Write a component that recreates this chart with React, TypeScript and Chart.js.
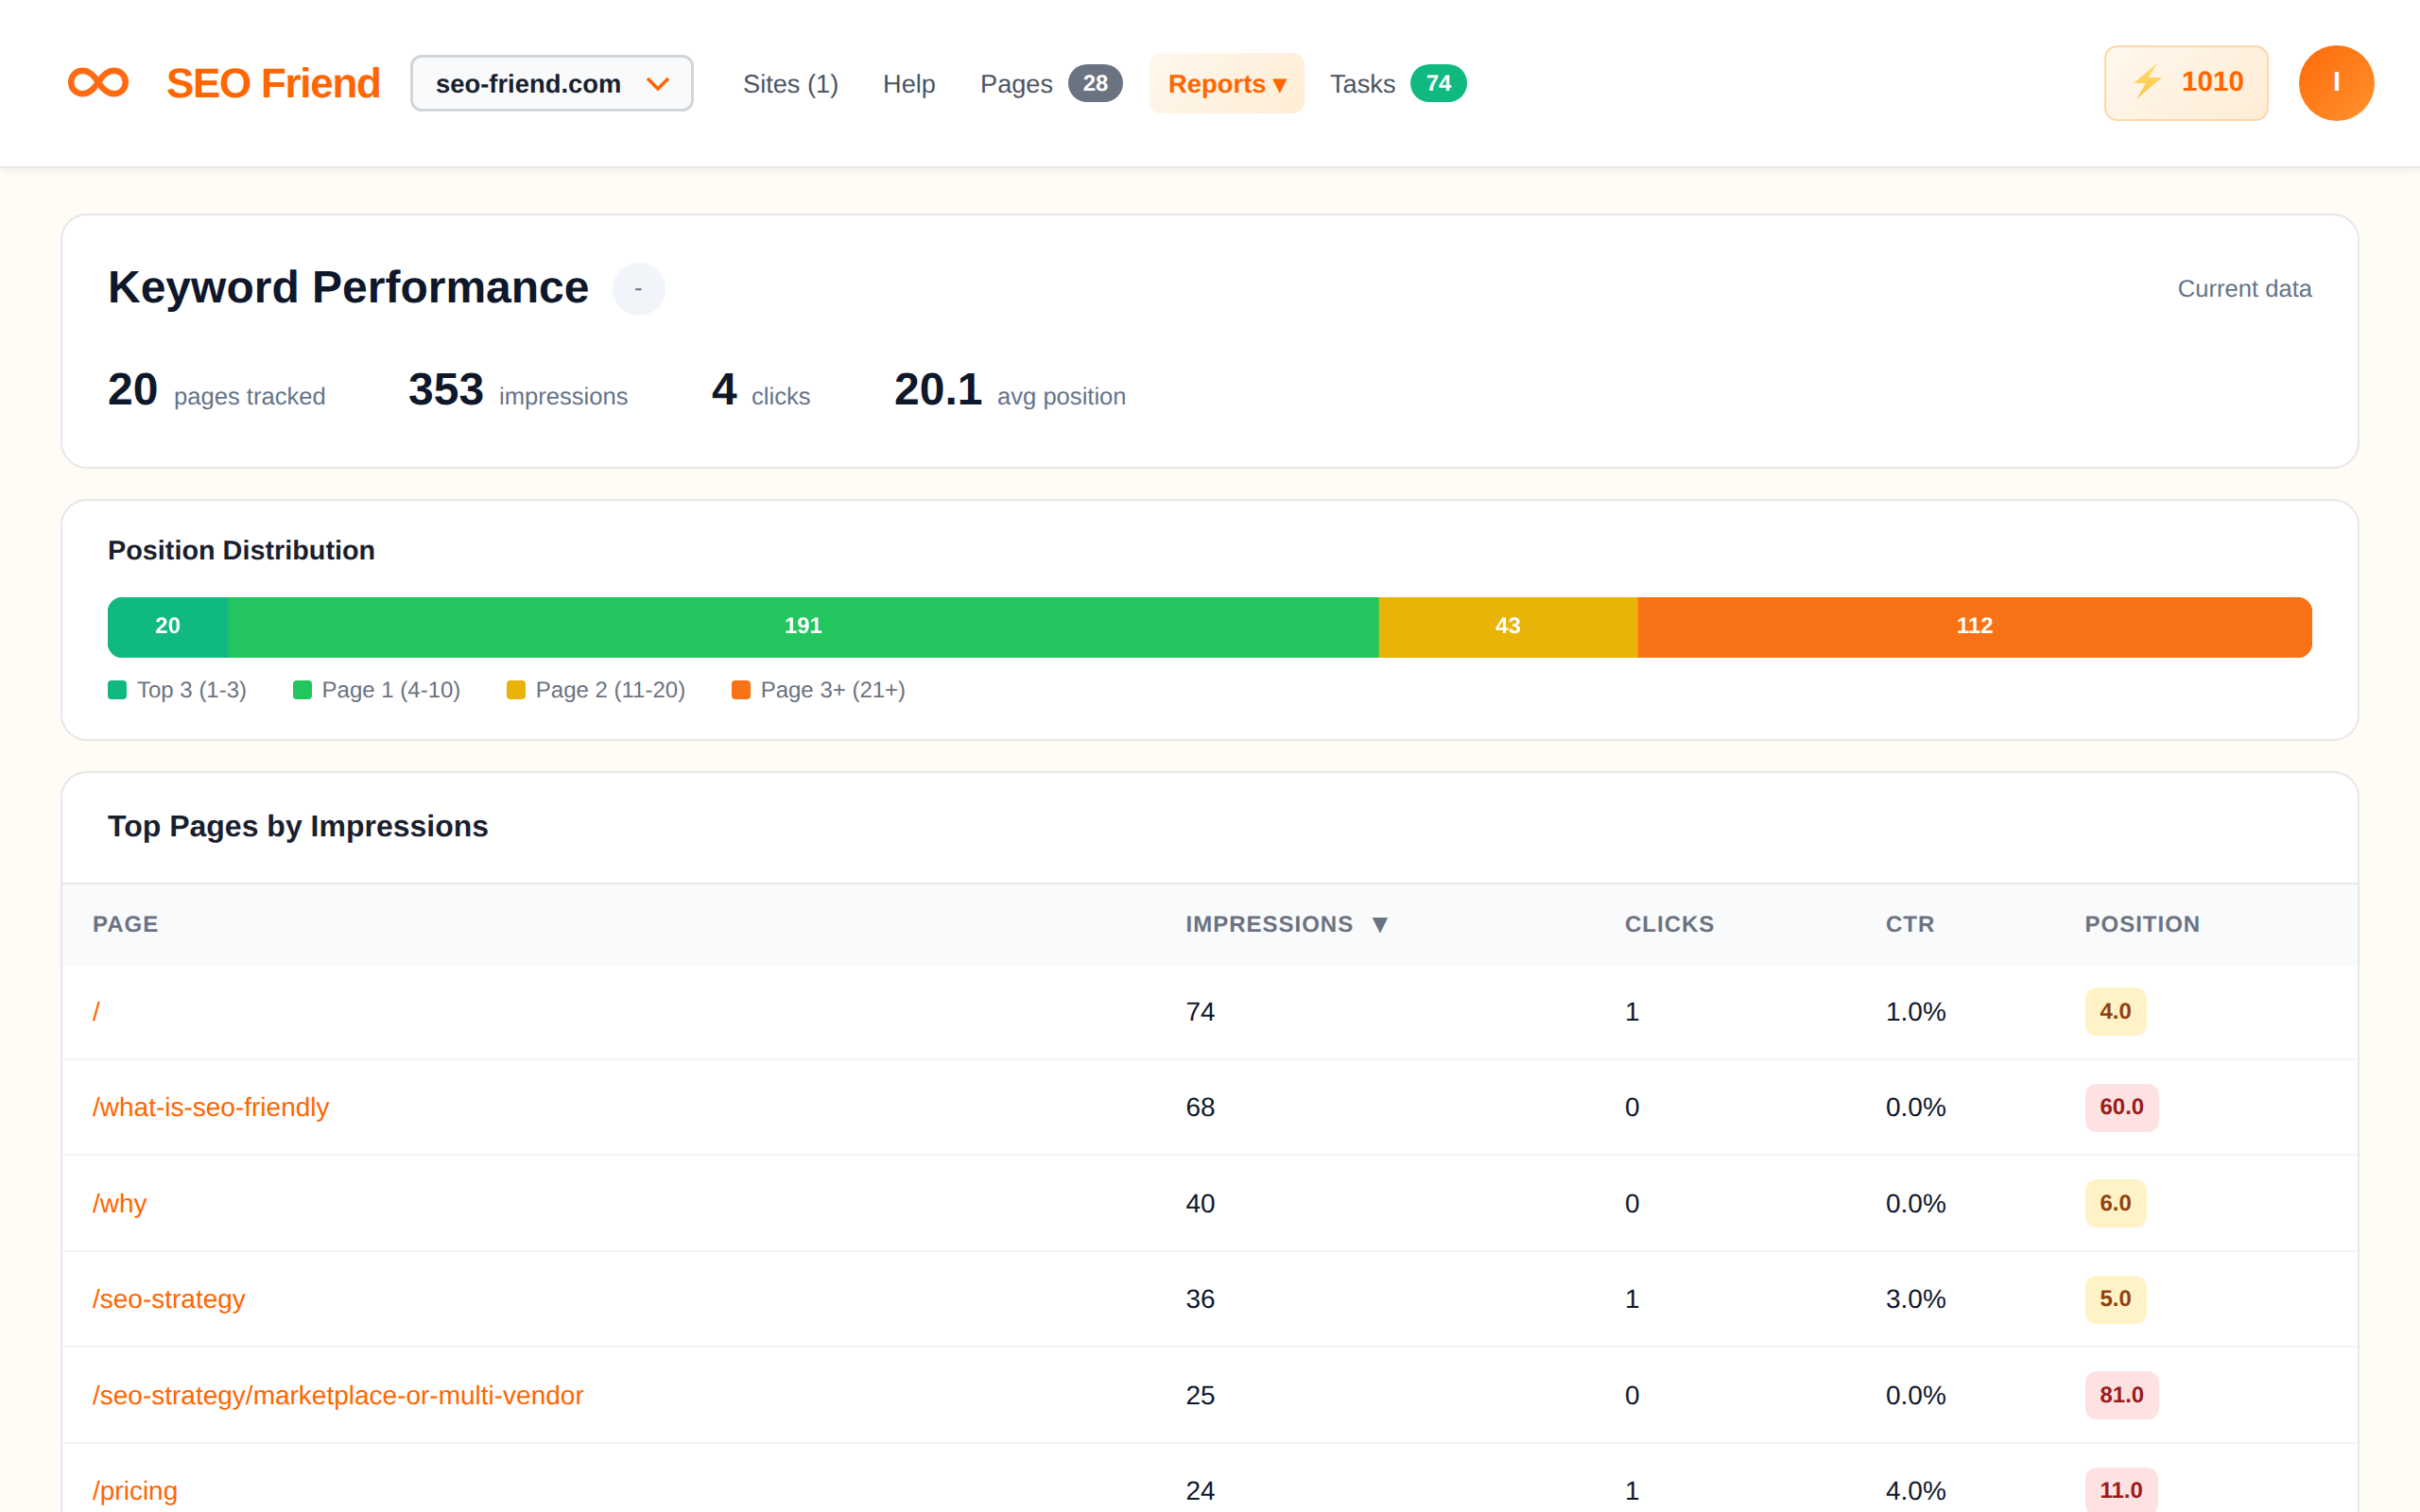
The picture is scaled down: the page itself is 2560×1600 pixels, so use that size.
import React, { useEffect, useRef } from "react";
import { Chart, registerables } from "chart.js";

Chart.register(...registerables);

const FONT = '"Liberation Sans", Arial, sans-serif';
const ORANGE = "#ff6600";

// position distribution
const bandLabels = ["Top 3 (1-3)", "Page 1 (4-10)", "Page 2 (11-20)", "Page 3+ (21+)"];
const bandValues = [20, 191, 43, 112];
const bandColors = ["#10b981", "#22c55e", "#eab308", "#f97316"];

// summary stats
const statValues = ["20", "353", "4", "20.1"];
const statLabels = ["pages tracked", "impressions", "clicks", "avg position"];
const statValueX = [114, 432, 753, 946];
const statLabelX = [184, 528, 795, 1055];

// table
const pagePaths = ["/", "/what-is-seo-friendly", "/why", "/seo-strategy", "/seo-strategy/marketplace-or-multi-vendor", "/pricing"];
const pageImpressions = [74, 68, 40, 36, 25, 24];
const pageClicks = [1, 0, 0, 1, 0, 1];
const pageCtr = ["1.0%", "0.0%", "0.0%", "3.0%", "0.0%", "4.0%"];
const pagePositions = ["4.0", "60.0", "6.0", "5.0", "81.0", "11.0"];
const pageGood = [true, false, true, true, false, false];

const tableHeaders = ["PAGE", "IMPRESSIONS", "CLICKS", "CTR", "POSITION"];
const columnX = [98, 1254.5, 1719, 1995, 2205.5];
const ROW_PITCH = 101.5;

const Txt: React.FC<{ x: number; base: number; size: number; color: string; bold?: boolean; spacing?: number; right?: boolean; children: React.ReactNode }> = ({ x, base, size, color, bold, spacing, right, children }) => {
  const lh = size * 1.4;
  return (
    <div style={{
      position: "absolute",
      ...(right ? { right: 2560 - x } : { left: x }),
      top: base - size * 0.3465 - lh / 2,
      fontSize: size,
      lineHeight: lh + "px",
      fontWeight: bold ? 700 : 400,
      color,
      letterSpacing: spacing,
      whiteSpace: "nowrap"
    }}>{children}</div>
  );
};

const Box: React.FC<{ x: number; y: number; w: number; h: number; style?: React.CSSProperties; children?: React.ReactNode }> = ({ x, y, w, h, style, children }) => (
  <div style={{ position: "absolute", left: x, top: y, width: w, height: h, boxSizing: "border-box", ...style }}>{children}</div>
);

const CountBadge: React.FC<{ x: number; w: number; bg: string; text: string }> = ({ x, w, bg, text }) => (
  <Box x={x} y={68} w={w} h={40} style={{ background: bg, borderRadius: 20, color: "#fff", fontSize: 24, fontWeight: 700, paddingTop: 1, display: "flex", alignItems: "center", justifyContent: "center" }}>{text}</Box>
);

const DistributionBar: React.FC = () => {
  const canvasRef = useRef<HTMLCanvasElement | null>(null);

  useEffect(() => {
    if (!canvasRef.current) return;
    const last = bandValues.length - 1;

    const chart = new Chart(canvasRef.current, {
      type: "bar",
      data: {
        labels: ["Position Distribution"],
        datasets: bandValues.map((v, i) => ({
          label: bandLabels[i],
          data: [v],
          backgroundColor: bandColors[i],
          borderWidth: 0,
          borderSkipped: false,
          borderRadius: i === 0
            ? { topLeft: 16, bottomLeft: 16, topRight: 0, bottomRight: 0 }
            : i === last
              ? { topLeft: 0, bottomLeft: 0, topRight: 16, bottomRight: 16 }
              : 0,
          barPercentage: 1,
          categoryPercentage: 1
        }))
      },
      options: {
        indexAxis: "y",
        animation: false,
        responsive: false,
        devicePixelRatio: 1,
        layout: { padding: 0 },
        plugins: { legend: { display: false }, tooltip: { enabled: false } },
        scales: {
          x: { display: false, stacked: true, min: 0, max: bandValues.reduce((a, b) => a + b, 0) },
          y: { display: false, stacked: true }
        }
      },
      plugins: [{
        id: "bandValues",
        afterDatasetsDraw(c) {
          const ctx: any = c.ctx;
          ctx.save();
          ctx.font = `700 24px ${FONT}`;
          ctx.textRendering = "geometricPrecision";
          ctx.fillStyle = "#ffffff";
          ctx.textAlign = "center";
          ctx.textBaseline = "alphabetic";
          c.data.datasets.forEach((ds, i) => {
            const bar: any = c.getDatasetMeta(i).data[0];
            ctx.fillText(String(ds.data[0]), (bar.x + bar.base) / 2, bar.y + 6);
          });
          ctx.restore();
        }
      }]
    });

    return () => chart.destroy();
  }, []);

  return <canvas ref={canvasRef} width={2332} height={64} style={{ position: "absolute", left: 114, top: 632, width: 2332, height: 64 }} />;
};

const card: React.CSSProperties = { background: "#fff", border: "2px solid #e5e7eb", borderRadius: 28 };

const App: React.FC = () => (
  <div style={{ position: "fixed", left: 0, top: 0, width: 2560, height: 1600, overflow: "hidden", background: "#fffcf5", fontFamily: FONT, textRendering: "geometricPrecision" }}>
    {/* top bar */}
    <Box x={0} y={0} w={2560} h={178} style={{ background: "#fff", borderBottom: "2px solid #e5e7eb", boxShadow: "0 2px 8px rgba(0,0,0,0.06)" }} />
    <svg style={{ position: "absolute", left: 60, top: 60, filter: "blur(0.7px)" }} width={90} height={56} viewBox="60 60 90 56">
      <path
        d="M104 87 C99 79 94 74.7 87.5 74.7 C80.5 74.7 75.2 80 75.2 87 C75.2 94 80.5 99.3 87.5 99.3 C94 99.3 99 95 104 87 C109 79 114 74.7 120.5 74.7 C127.5 74.7 132.8 80 132.8 87 C132.8 94 127.5 99.3 120.5 99.3 C114 99.3 109 95 104 87 Z"
        fill="none"
        stroke="#ff6a13"
        strokeWidth={6.5}
      />
    </svg>
    <Txt x={176} base={104} size={44} color={ORANGE} bold spacing={-1.3}>SEO Friend</Txt>

    <Box x={434} y={58} w={300} h={60} style={{ background: "#f9fafb", border: "3px solid #d1d5db", borderRadius: 12 }} />
    <Txt x={461} base={98.5} size={27.4} color="#1a1f2e" bold>seo-friend.com</Txt>
    <svg style={{ position: "absolute", left: 680, top: 78 }} width={32} height={22}>
      <path d="M5 5 L16 16 L27 5" fill="none" stroke={ORANGE} strokeWidth={3.6} />
    </svg>

    <Txt x={786} base={98.5} size={27.2} color="#4b5563">Sites (1)</Txt>
    <Txt x={934} base={98.5} size={27.2} color="#4b5563">Help</Txt>
    <Txt x={1037} base={98.5} size={27.2} color="#4b5563">Pages</Txt>
    <CountBadge x={1130} w={58} bg="#6b7280" text="28" />
    <Box x={1216} y={56} w={164} h={64} style={{ background: "linear-gradient(135deg,#fff7ed,#ffedd5)", borderRadius: 12 }} />
    <Txt x={1236} base={98.5} size={27.4} color={ORANGE} bold>Reports ▾</Txt>
    <Txt x={1407} base={98.5} size={27.2} color="#4b5563">Tasks</Txt>
    <CountBadge x={1492} w={60} bg="#10b981" text="74" />

    <Box x={2226} y={48} w={174} h={80} style={{ background: "linear-gradient(135deg,#fff7ed,#ffedd5)", border: "2.5px solid #fed7aa", borderRadius: 14 }} />
    <svg style={{ position: "absolute", left: 2250, top: 60 }} width={44} height={50} viewBox="2250 60 44 50">
      <defs>
        <linearGradient id="bolt" x1="0" y1="0" x2="0" y2="1">
          <stop offset="0" stopColor="#ffdd6e" />
          <stop offset="1" stopColor="#fcc64a" />
        </linearGradient>
      </defs>
      <polygon points="2283,66 2257,88 2270,88 2260,105 2287,82 2273,82" fill="url(#bolt)" />
    </svg>
    <Txt x={2308} base={97} size={29.6} color={ORANGE} bold>1010</Txt>
    <Box x={2432} y={48} w={80} h={80} style={{ borderRadius: "50%", background: "linear-gradient(135deg,#ff6a0a,#ff922e)" }} />
    <Txt x={2468} base={97} size={28.8} color="#fff" bold>I</Txt>

    {/* keyword performance card */}
    <Box x={64} y={226} w={2432} h={270} style={card} />
    <Txt x={114} base={321} size={48} color="#0f172a" bold>Keyword Performance</Txt>
    <Box x={648} y={278} w={56} h={56} style={{ background: "#f1f5f9", borderRadius: "50%" }} />
    <Txt x={671} base={315} size={25.6} color="#64748b">-</Txt>
    <Txt x={2446} base={316} size={25.6} color="#64748b" right>Current data</Txt>
    {statValues.map((v, i) => (
      <React.Fragment key={i}>
        <Txt x={statValueX[i]} base={429} size={48} color="#0f172a" bold>{v}</Txt>
        <Txt x={statLabelX[i]} base={429.5} size={25.6} color="#64748b">{statLabels[i]}</Txt>
      </React.Fragment>
    ))}

    {/* position distribution card */}
    <Box x={64} y={528} w={2432} h={256} style={card} />
    <Txt x={114} base={593} size={28.8} color="#1a1f2e" bold>Position Distribution</Txt>
    <DistributionBar />
    <div style={{ position: "absolute", left: 114, top: 716, display: "flex", gap: 48.5, fontSize: 24, lineHeight: "28px", color: "#6b7280" }}>
      {bandLabels.map((label, i) => (
        <div key={label} style={{ display: "flex", alignItems: "center", gap: 11 }}>
          <span style={{ width: 20, height: 20, borderRadius: 4, background: bandColors[i] }} />
          <span style={{ position: "relative", top: 1 }}>{label}</span>
        </div>
      ))}
    </div>

    {/* table card */}
    <Box x={64} y={816} w={2432} h={900} style={card} />
    <Txt x={114} base={885} size={32} color="#1a1f2e" bold>Top Pages by Impressions</Txt>
    <Box x={66} y={934} w={2428} h={88} style={{ background: "#f8fafc", borderTop: "2px solid #e5e7eb" }} />
    {tableHeaders.map((h, i) => (
      <Txt key={h} x={columnX[i]} base={987.5} size={24} color="#6b7280" bold spacing={1}>{h}</Txt>
    ))}
    <Txt x={1446} base={987.5} size={28} color="#6b7280">▼</Txt>
    {pagePaths.map((p, i) => {
      const base = 1080 + i * ROW_PITCH;
      return (
        <React.Fragment key={p}>
          <Box x={66} y={1119.5 + i * ROW_PITCH} w={2428} h={2} style={{ background: "#f3f4f6" }} />
          <Txt x={columnX[0]} base={base} size={28} color={ORANGE}>{p}</Txt>
          <Txt x={columnX[1]} base={base} size={28} color="#0f172a">{pageImpressions[i]}</Txt>
          <Txt x={columnX[2]} base={base} size={28} color="#0f172a">{pageClicks[i]}</Txt>
          <Txt x={columnX[3]} base={base} size={28} color="#0f172a">{pageCtr[i]}</Txt>
          <div style={{
            position: "absolute",
            left: columnX[4],
            top: base - 35,
            height: 51,
            padding: "0 16px",
            display: "flex",
            alignItems: "center",
            fontSize: 24,
            fontWeight: 700,
            borderRadius: 12,
            background: pageGood[i] ? "#fef3c7" : "#fee2e2",
            color: pageGood[i] ? "#92400e" : "#991b1b"
          }}>{pagePositions[i]}</div>
        </React.Fragment>
      );
    })}
  </div>
);

export default App;
